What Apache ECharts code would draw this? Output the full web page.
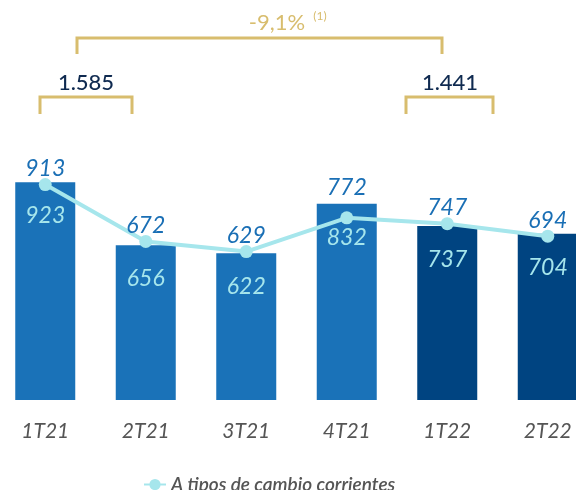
<!DOCTYPE html>
<html>
<head>
<meta charset="utf-8">
<script src="https://cdn.jsdelivr.net/npm/echarts@6/dist/echarts.min.js"></script>
<style>
  html, body { margin: 0; padding: 0; background: #fff; }
  #chart { width: 576px; height: 490px; }
</style>
</head>
<body>
<div id="chart"></div>
<script>
  const quarters = ['1T21', '2T21', '3T21', '4T21', '1T22', '2T22']
  const barValues = [923, 656, 622, 832, 737, 704]
  const lineValues = [913, 672, 629, 772, 747, 694]
  const semesterTotals = ['1.585', '1.441']
  const changeLabel = '-9,1%'
  const legendName = 'A tipos de cambio corrientes'

  const blue2021 = '#1a72b8'
  const navy2022 = '#004481'
  const cyan = '#a6e6ec'
  const gold = '#d8bd6e'
  const font = 'Lato'

  const chart = echarts.init(document.getElementById('chart'))

  const bracket = (x1, x2, yTop, yBottom) => ({
    type: 'polyline',
    shape: { points: [[x1, yBottom], [x1, yTop], [x2, yTop], [x2, yBottom]] },
    style: { stroke: gold, lineWidth: 3, fill: null }
  })

  const option = {
    animation: false,
    // the last bar runs off the right edge, so the grid is wider than the page
    grid: { left: -5, width: 603, top: 164, bottom: 90, outerBoundsMode: 'none' },
    xAxis: {
      type: 'category',
      data: quarters,
      axisLine: { show: false },
      axisTick: { show: false },
      axisLabel: {
        margin: 21,
        color: '#555',
        fontSize: 21,
        fontStyle: 'italic',
        fontFamily: font
      }
    },
    yAxis: {
      type: 'value',
      min: 0,
      max: 1000,
      show: false,
      splitLine: { show: false }
    },
    legend: {
      data: [legendName],
      left: 138,
      top: 470,
      itemWidth: 22,
      itemHeight: 14,
      textStyle: {
        color: '#555',
        fontSize: 19,
        fontStyle: 'italic',
        fontWeight: 600,
        fontFamily: font
      }
    },
    series: [
      {
        type: 'bar',
        barWidth: 60,
        data: barValues.map((v, i) => ({
          value: v,
          itemStyle: { color: quarters[i].endsWith('22') ? navy2022 : blue2021 }
        })),
        label: {
          show: true,
          position: 'insideTop',
          distance: 22,
          color: cyan,
          fontSize: 23,
          fontStyle: 'italic',
          fontFamily: font
        }
      },
      {
        name: legendName,
        type: 'line',
        // 4T21 point sits under its bar top, lift that label clear of the bar
        data: lineValues.map((v, i) => i === 3 ? { value: v, label: { distance: 12 } } : v),
        symbol: 'circle',
        symbolSize: 13,
        lineStyle: { color: cyan, width: 4 },
        itemStyle: { color: cyan },
        z: 5,
        label: {
          show: true,
          position: 'top',
          distance: -2,
          color: '#1a6fb5',
          fontSize: 23,
          fontStyle: 'italic',
          fontFamily: font
        }
      }
    ],
    graphic: [
      bracket(77, 442, 38, 54),
      bracket(40, 132, 97, 114),
      bracket(406, 493, 97, 114),
      {
        type: 'text',
        x: 277, y: 23,
        style: { text: changeLabel, fill: gold, font: '22px ' + font, align: 'center', verticalAlign: 'middle' }
      },
      {
        type: 'text',
        x: 320, y: 16,
        style: { text: '(1)', fill: gold, font: '12px ' + font, align: 'center', verticalAlign: 'middle' }
      },
      {
        type: 'text',
        x: 86, y: 83,
        style: { text: semesterTotals[0], fill: '#0f2a50', font: '500 22px ' + font, align: 'center', verticalAlign: 'middle' }
      },
      {
        type: 'text',
        x: 450, y: 83,
        style: { text: semesterTotals[1], fill: '#0f2a50', font: '500 22px ' + font, align: 'center', verticalAlign: 'middle' }
      }
    ]
  }

  chart.setOption(option)
</script>
</body>
</html>
